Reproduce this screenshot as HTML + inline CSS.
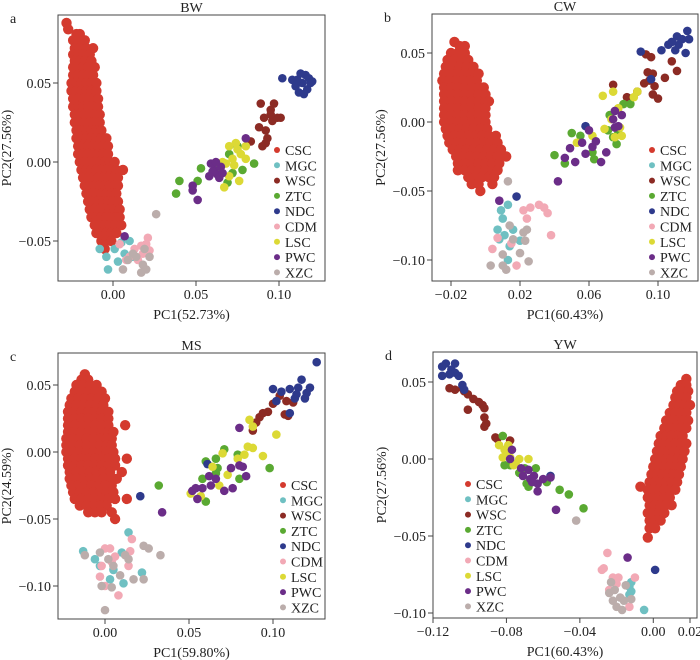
<!DOCTYPE html>
<html><head><meta charset="utf-8"><style>
html,body{margin:0;padding:0;background:#fff}
svg{display:block;font-family:"Liberation Serif",serif}
</style></head><body>
<svg id="chart" width="700" height="660" viewBox="0 0 700 660"></svg>
<script>
// ---- data (values in units of 0.001) ----
const groups = ["CSC","MGC","WSC","ZTC","NDC","CDM","LSC","PWC","XZC"];
const colors = ["#d43a2e","#6fc0c2","#8c2b24","#5aa932","#2e3a8c","#f2a9b5","#dcd935","#6b2d88","#bbadab"];

// CSC rows: [y, x1, x2, ...]
const cscA = [[88,-28],[84,-27],[81,-22,-20],[77,-24,-21,-17],[72,-23,-20,-16,-12],[68,-24,-21,-18,-14],[64,-23,-20,-17,-13],[60,-24,-21,-18,-15,-11],[55,-24,-21,-18,-15,-12],[50,-25,-22,-19,-16,-13,-10],[45,-25,-22,-19,-16,-13,-10],[40,-24,-21,-18,-15,-12,-9],[35,-24,-21,-18,-15,-12,-9],[30,-23,-20,-17,-14,-11,-8],[25,-23,-20,-17,-14,-11,-8],[20,-22,-19,-16,-13,-10,-7],[15,-22,-19,-16,-13,-10,-7,-4],[10,-21,-18,-15,-12,-9,-6,-3],[5,-21,-18,-15,-12,-9,-6,-3],[0,-20,-17,-14,-11,-8,-5,-2,1],[-5,-19,-16,-13,-10,-7,-4,-1,2,6],[-10,-18,-15,-12,-9,-6,-3,0,3],[-15,-17,-14,-11,-8,-5,-2,1,3],[-20,-16,-13,-10,-7,-4,-1,2],[-25,-15,-12,-9,-6,-3,0,3],[-30,-14,-11,-8,-5,-2,1,4],[-35,-13,-10,-7,-4,-1,2,4],[-40,-11,-8,-5,-2,1,5],[-45,-10,-7,-4,-1,2],[-50,-7,-4,-1],[-55,-5]];
const cscB = [[58,-18],[55,-15,-12],[50,-20,-16,-12],[45,-22,-18,-14,-10],[40,-23,-19,-15,-11,-7],[35,-24,-20,-16,-12,-8,-4],[30,-25,-21,-17,-13,-9,-5],[25,-24,-20,-16,-12,-8,-4,-1],[20,-24,-20,-16,-12,-8,-4,0],[15,-24,-20,-16,-12,-8,-4,0,2],[10,-24,-20,-16,-12,-8,-4,0],[5,-24,-20,-16,-12,-8,-4,0],[0,-24,-20,-16,-12,-8,-4,0],[-5,-23,-19,-15,-11,-7,-3,1],[-10,-22,-18,-14,-10,-6,-2,2,6],[-15,-21,-17,-13,-9,-5,-1,3,7],[-20,-19,-15,-11,-7,-3,1,5,9],[-25,-17,-13,-9,-5,-1,3,7,12],[-30,-16,-12,-8,-4,0,4,8],[-35,-16,-12,-8,-4,0,4,7],[-40,-10,-6,-2,2,5],[-45,-8,-4,4],[-50,-3]];
const cscC = [[58,-12],[54,-14,-10],[50,-17,-13,-9,-5],[45,-18,-14,-10,-6,-2],[40,-20,-16,-12,-8,-4,0],[35,-21,-17,-13,-9,-5,-1],[30,-22,-18,-14,-10,-6,-2,2],[25,-22,-18,-14,-10,-6,-2,2],[20,-22,-18,-14,-10,-6,-2,2,12],[15,-22,-18,-14,-10,-6,-2,2,5],[10,-23,-19,-15,-11,-7,-3,1,4],[5,-23,-19,-15,-11,-7,-3,1,4],[0,-23,-19,-15,-11,-7,-3,1,5],[-5,-22,-18,-14,-10,-6,-2,2,6,13],[-10,-22,-18,-14,-10,-6,-2,2,6],[-15,-21,-17,-13,-9,-5,-1,3,10],[-20,-21,-17,-13,-9,-5,-1,3,7],[-25,-20,-16,-12,-8,-4,0,4],[-30,-19,-15,-11,-7,-3,1,5],[-35,-18,-14,-10,-6,-2,2,6,13],[-40,-15,-11,-7,-3,1],[-45,-10,-6,-2,4],[-50,6]];
const cscD = [[52,18],[48,15,18],[44,13,16,19],[40,12,15,18],[35,11,14,17,20],[30,9,12,15,18],[25,7,10,13,16,19],[20,6,9,12,15,18],[15,4,7,10,13,16],[10,3,6,9,12,15,18],[5,2,5,8,11,14,17],[0,1,4,7,10,13,16],[-5,0,3,6,9,12,15],[-10,-1,2,5,8,11,14],[-15,-2,1,4,7,10,13],[-18,-7],[-20,-3,0,3,6,9,12],[-25,-3,0,3,6,9],[-30,-2,1,4,7,10],[-35,-3,0,3,6],[-40,-2,1,4],[-45,-2,1],[-51,-3]];

// other groups: [[x,y],...]
const mgcA=[[-8,-55],[-4,-60],[-3,-68],[1,-55],[5,-51],[7,-58],[10,-50],[3,-63],[12,-60]];
const wscA=[[89,37],[95,33],[97,37],[96,26],[91,28],[88,22],[92,20],[93,15],[90,10],[92,12],[83,13],[101,28],[99,28],[95,30]];
const ztcA=[[38,-20],[40,-12],[53,-4],[51,-12],[69,-13],[72,-7],[85,-1],[78,-5],[70,5],[75,10],[63,-5]];
const ndcA=[[102,53],[108,52],[110,48],[112,44],[114,50],[116,55],[118,53],[120,51],[117,46],[115,43],[111,52],[113,56],[119,50]];
const cdmA=[[8,-62],[13,-55],[17,-53],[21,-48],[22,-56],[4,-52],[10,-60],[18,-58],[15,-62],[20,-52]];
const lscA=[[70,10],[75,8],[80,10],[77,5],[72,2],[68,-1],[66,0],[70,-9],[67,-16],[73,-2],[76,-12],[80,2],[74,12]];
const pwcA=[[7,-47],[51,-24],[48,-18],[48,-15],[61,-5],[63,-8],[60,-6],[65,-3],[59,-1],[64,-10],[66,-7],[80,15],[62,0],[58,-9]];
const xzcA=[[26,-33],[9,-62],[14,-60],[18,-65],[22,-60],[20,-68],[17,-70],[6,-68],[12,-58],[19,-55]];

const mgcB=[[9,-64],[13,-60],[10,-70],[7,-78],[8,-85],[11,-82],[14,-90],[13,-100],[20,-86],[16,-78]];
const wscB=[[74,27],[82,18],[93,49],[96,47],[94,36],[95,30],[97,35],[98,26],[97,20],[100,17],[104,32],[108,44],[111,37],[88,22],[92,28]];
const ztcB=[[40,-24],[46,-30],[50,-8],[55,-10],[63,-27],[62,-22],[72,5],[74,-11],[76,-16],[80,13],[84,13],[77,-8],[71,-6]];
const ndcB=[[18,-54],[58,-3],[90,51],[96,31],[102,52],[106,56],[108,58],[111,62],[114,60],[117,66],[118,60],[116,50],[112,56],[110,52]];
const cdmB=[[22,-64],[26,-62],[31,-60],[34,-62],[36,-66],[24,-70],[38,-82],[4,-92],[7,-84],[18,-104],[15,-88]];
const lscB=[[53,-15],[62,-10],[68,19],[74,22],[77,10],[73,2],[78,-4],[79,-10],[88,22],[86,18],[75,-11],[69,-5]];
const pwcB=[[8,-57],[56,-15],[49,-19],[46,-26],[52,-29],[58,-23],[62,-18],[70,-22],[67,-29],[64,-14],[74,2],[77,-3],[79,5],[75,-4],[75,8],[42,-43],[60,-6]];
const xzcB=[[13,-43],[22,-80],[24,-78],[20,-95],[25,-101],[10,-96],[10,-104],[3,-104],[12,-107],[16,-85],[23,-86],[14,-75]];

const mgcC=[[-13,-74],[-6,-80],[14,-60],[10,-75],[-3,-85],[3,-95],[22,-90],[11,-98],[5,-88]];
const wscC=[[88,16],[90,22],[92,26],[97,30],[100,36],[104,42],[107,28],[109,27],[108,38],[112,37],[94,29]];
const ztcC=[[32,-25],[60,-7],[58,-20],[71,2],[67,-12],[66,-16],[79,-2],[80,-20],[98,-12],[60,-37],[66,-5]];
const ndcC=[[21,-33],[61,-9],[100,47],[102,38],[110,29],[105,45],[110,47],[115,48],[117,54],[114,43],[119,40],[120,44],[122,48],[126,67],[113,40]];
const cdmC=[[0,-72],[3,-72],[16,-65],[15,-74],[-2,-85],[4,-82],[-3,-93],[8,-107],[14,-85],[6,-78],[0,-100]];
const lscC=[[86,24],[88,19],[102,13],[85,4],[88,3],[94,-3],[83,-2],[70,-1],[73,-17],[68,-25],[51,-31],[57,-33],[79,-5],[64,-11]];
const pwcC=[[34,-45],[80,18],[52,-29],[55,-35],[58,-27],[63,-25],[62,-18],[71,-29],[75,-12],[76,-27],[80,-10],[84,-18],[82,-11],[54,-27],[66,-20]];
const xzcC=[[-12,-77],[-3,-75],[2,-80],[12,-77],[14,-80],[23,-70],[26,-72],[33,-77],[17,-95],[23,-95],[5,-85],[-2,-100],[4,-101],[0,-118],[9,-92]];

const mgcD=[[-13,-83],[-12,-86],[-12,-80],[-13,-88],[-5,-98],[-14,-82]];
const wscD=[[-111,46],[-108,45],[-103,44],[-101,42],[-98,39],[-95,37],[-93,35],[-92,33],[-101,32],[-92,27],[-91,23],[-92,21],[-86,14],[-85,13],[-78,12],[-104,46]];
const ztcD=[[-82,15],[-78,-4],[-81,-4],[-73,-9],[-69,-16],[-68,-18],[-64,-6],[-58,-15],[-51,-20],[-46,-23],[-38,-32],[-70,-6]];
const ndcD=[[-115,60],[-113,62],[-110,58],[-108,56],[-111,55],[-106,54],[-104,48],[-103,45],[-115,54],[-108,62],[-56,-11],[1,-72]];
const cdmD=[[-25,-61],[-27,-71],[-28,-72],[-22,-77],[-19,-77],[-10,-77],[-13,-96],[-20,-81],[-24,-85]];
const lscD=[[-84,9],[-81,6],[-80,3],[-82,1],[-78,1],[-76,-4],[-73,0],[-79,9],[-68,0],[-75,-3]];
const pwcD=[[-77,6],[-78,0],[-72,-6],[-68,-7],[-65,-11],[-71,-11],[-67,-13],[-63,-16],[-60,-13],[-63,-21],[-66,-15],[-56,-12],[-53,-33],[-14,-64]];
const xzcD=[[-42,-40],[-23,-80],[-24,-87],[-22,-92],[-20,-96],[-18,-90],[-21,-85],[-16,-92],[-12,-91],[-15,-82],[-17,-98]];

const xTicksA=[0,0.05,0.10], xTickLabelsA=["0.00","0.05","0.10"];
const yTicksA=[-0.05,0,0.05], yTickLabelsA=["\u22120.05","0.00","0.05"];
const xTicksB=[-0.02,0.02,0.06,0.10], xTickLabelsB=["\u22120.02","0.02","0.06","0.10"];
const yTicksB=[-0.10,-0.05,0,0.05], yTickLabelsB=["\u22120.10","\u22120.05","0.00","0.05"];
const xTicksC=[0,0.05,0.10], xTickLabelsC=["0.00","0.05","0.10"];
const yTicksC=[-0.10,-0.05,0,0.05], yTickLabelsC=["\u22120.10","\u22120.05","0.00","0.05"];
const xTicksD=[-0.12,-0.08,-0.04,0,0.02], xTickLabelsD=["\u22120.12","\u22120.08","\u22120.04","0.00","0.02"];
const yTicksD=[-0.10,-0.05,0,0.05], yTickLabelsD=["\u22120.10","\u22120.05","0.00","0.05"];

// ---- layout ----
const NS="http://www.w3.org/2000/svg";
const svg=document.getElementById("chart");
function mk(tag,attrs,parent){const e=document.createElementNS(NS,tag);for(const k in attrs)e.setAttribute(k,attrs[k]);(parent||svg).appendChild(e);return e;}

const panels=[
 {id:"a",title:"BW",xl:"PC1(52.73%)",yl:"PC2(27.56%)",box:[58,15,325,281],x0:0,px0:113,x1:0.05,px1:196,y0:0,py0:162,y1:0.05,py1:83,
  csc:cscA,others:[mgcA,wscA,ztcA,ndcA,cdmA,lscA,pwcA,xzcA],xt:xTicksA,xtl:xTickLabelsA,yt:yTicksA,ytl:yTickLabelsA,leg:[277,150]},
 {id:"b",title:"CW",xl:"PC1(60.43%)",yl:"PC2(27.56%)",box:[432,14,698,281],x0:-0.02,px0:451,x1:0.10,px1:658,y0:0,py0:122,y1:0.05,py1:53,
  csc:cscB,others:[mgcB,wscB,ztcB,ndcB,cdmB,lscB,pwcB,xzcB],xt:xTicksB,xtl:xTickLabelsB,yt:yTicksB,ytl:yTickLabelsB,leg:[652,150]},
 {id:"c",title:"MS",xl:"PC1(59.80%)",yl:"PC2(24.59%)",box:[58,353,325,619],x0:0,px0:105,x1:0.10,px1:273,y0:0,py0:452,y1:0.05,py1:385,
  csc:cscC,others:[mgcC,wscC,ztcC,ndcC,cdmC,lscC,pwcC,xzcC],xt:xTicksC,xtl:xTickLabelsC,yt:yTicksC,ytl:yTickLabelsC,leg:[283,485]},
 {id:"d",title:"YW",xl:"PC1(60.43%)",yl:"PC2(27.56%)",box:[433,352,697,618],x0:-0.12,px0:433,x1:0.02,px1:690,y0:0,py0:459,y1:0.05,py1:382,
  csc:cscD,others:[mgcD,wscD,ztcD,ndcD,cdmD,lscD,pwcD,xzcD],xt:xTicksD,xtl:xTickLabelsD,yt:yTicksD,ytl:yTickLabelsD,leg:[468,484]}
];

panels.forEach(p=>{
  const g=mk("g",{});
  
  
  const sx=v=>p.px0+(v-p.x0)*(p.px1-p.px0)/(p.x1-p.x0);
  const sy=v=>p.py0+(v-p.y0)*(p.py1-p.py0)/(p.y1-p.y0);
  const [L,T,R,B]=p.box;
  const pts=mk("g",{},g);
  
  
  // CSC
  p.csc.forEach(row=>{
    for(let i=1;i<row.length;i++){
      const c=mk("circle",{cx:sx(row[i]/1000),cy:sy(row[0]/1000),r:5.2,fill:colors[0]},pts);
      
      
    }
  });
  p.others.forEach((arr,gi)=>{
    arr.forEach(d=>{
      const c=mk("circle",{cx:sx(d[0]/1000),cy:sy(d[1]/1000),r:4.3,fill:colors[gi+1]},pts);
      
      
    });
  });
  const fr=mk("rect",{x:L,y:T,width:R-L,height:B-T,fill:"none",stroke:"#444","stroke-width":1},g);
  
  
  p.xt.forEach((v,i)=>{
    const x=sx(v);
    mk("line",{x1:x,x2:x,y1:B,y2:B+5,stroke:"#444"},g);
    const t=mk("text",{x:x,y:B+18,"text-anchor":"middle","font-size":14,fill:"#222"},g);
    t.textContent=p.xtl[i];
    
    
  });
  p.yt.forEach((v,i)=>{
    const y=sy(v);
    mk("line",{x1:L-5,x2:L,y1:y,y2:y,stroke:"#444"},g);
    const t=mk("text",{x:L-7,y:y+5,"text-anchor":"end","font-size":14,fill:"#222"},g);
    t.textContent=p.ytl[i];
    
    
  });
  const ti=mk("text",{x:(L+R)/2,y:T-3,"text-anchor":"middle","font-size":14,fill:"#222"},g);
  ti.textContent=p.title;
  
  
  const lt=mk("text",{x:L-48,y:T+8,"font-size":14,fill:"#222"},g);
  lt.textContent=p.id;
  
  
  const xl=mk("text",{x:(L+R)/2,y:B+38,"text-anchor":"middle","font-size":14,fill:"#222"},g);
  xl.textContent=p.xl;
  
  
  const yc=(T+B)/2, yx=L-47;
  const yl=mk("text",{x:yx,y:yc,"text-anchor":"middle","font-size":14,fill:"#222",transform:`rotate(-90 ${yx} ${yc})`},g);
  yl.textContent=p.yl;
  
  
  const lg=mk("g",{},g);
  
  
  groups.forEach((name,i)=>{
    const y=p.leg[1]+i*15.3;
    const e=mk("g",{},lg);
    
    
    mk("circle",{cx:p.leg[0],cy:y,r:3,fill:colors[i]},e);
    const t=mk("text",{x:p.leg[0]+8,y:y+5,"font-size":14,fill:"#222"},e);
    t.textContent=name;
  });
});
</script>
</body></html>
